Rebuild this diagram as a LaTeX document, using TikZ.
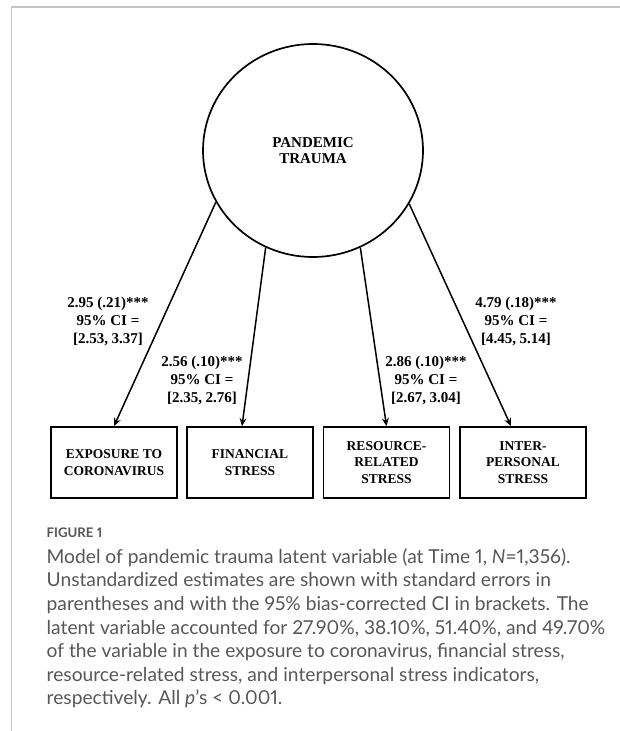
\documentclass[tikz,border=0pt]{standalone}
\usepackage{fontspec}
\setmainfont{Liberation Serif}
\newfontfamily\capfont[Numbers=Proportional]{Lato}
\usetikzlibrary{shapes.geometric,arrows.meta}
\definecolor{framegray}{HTML}{C4C4C4}
\definecolor{captext}{HTML}{575757}
\tikzset{
  latent/.style={draw, line width=1.7pt, ellipse, minimum width=220pt, minimum height=213pt, inner sep=0pt,
    font=\bfseries\fontsize{15}{16.5}\selectfont, align=center},
  indicator/.style={draw, line width=1.8pt, minimum width=126pt, minimum height=71pt, inner sep=0pt,
    font=\bfseries\fontsize{13.5}{16.5}\selectfont, align=center},
  path/.style={line width=1.5pt, -{Stealth[length=8pt,width=7pt]}},
  est/.style={font=\bfseries\fontsize{15}{18}\selectfont, align=center, inner sep=0pt},
  capline/.style={anchor=base west, inner sep=0pt, text=captext, font=\capfont\fontsize{19.2}{23.6}\selectfont},
}
\begin{document}
\begin{tikzpicture}[x=1pt,y=-1pt]
\useasboundingbox (0,0) rectangle (620,731);
\draw[framegray, line width=1.5pt] (11.5,731) -- (11.5,7) -- (620,7);

\node[latent] (trauma) at (313,150.5) {PANDEMIC\\TRAUMA};

\node[indicator] (exp) at (114,462.5) {EXPOSURE TO\\CORONAVIRUS};
\node[indicator] (fin) at (250,462.5) {FINANCIAL\\STRESS};
\node[indicator] (res) at (386.5,462.5) {RESOURCE-\\RELATED\\STRESS};
\node[indicator] (inter) at (523,462.5) {INTER-\\PERSONAL\\STRESS};

\draw[path] (trauma.208.9) -- (exp.north);
\draw[path] (trauma.244.9) -- ([xshift=-8pt]fin.north);
\draw[path] (trauma.296.8) -- (res.north);
\draw[path] (trauma.331.6) -- ([xshift=-12pt]inter.north);

\node[est] (l1) at (108,321) {2.95 (.21)***\\95\% CI =\\{[2.53, 3.37]}};
\node[est] (l2) at (202,380.5) {2.56 (.10)***\\95\% CI =\\{[2.35, 2.76]}};
\node[est] (l3) at (426,380.5) {2.86 (.10)***\\95\% CI =\\{[2.67, 3.04]}};
\node[est] (l4) at (516,321) {4.79 (.18)***\\95\% CI =\\{[4.45, 5.14]}};

\node[capline, font=\capfont\bfseries\fontsize{13.2}{16}\selectfont] (fig) at (46.5,537.3) {FIGURE 1};
\node[capline] (c1) at (46.5,563.3) {Model of pandemic trauma latent variable (at Time 1, \emph{N}=1,356).};
\node[capline] (c2) at (46.5,586.9) {Unstandardized estimates are shown with standard errors in};
\node[capline] (c3) at (46.5,610.5) {parentheses and with the 95\% bias-corrected CI in brackets. The};
\node[capline] (c4) at (46.5,634.1) {latent variable accounted for 27.90\%, 38.10\%, 51.40\%, and 49.70\%};
\node[capline] (c5) at (46.5,657.7) {of the variable in the exposure to coronavirus, financial stress,};
\node[capline] (c6) at (46.5,681.3) {resource-related stress, and interpersonal stress indicators,};
\node[capline] (c7) at (46.5,704.9) {respectively. All \emph{p}’s < 0.001.};
\end{tikzpicture}
\end{document}
